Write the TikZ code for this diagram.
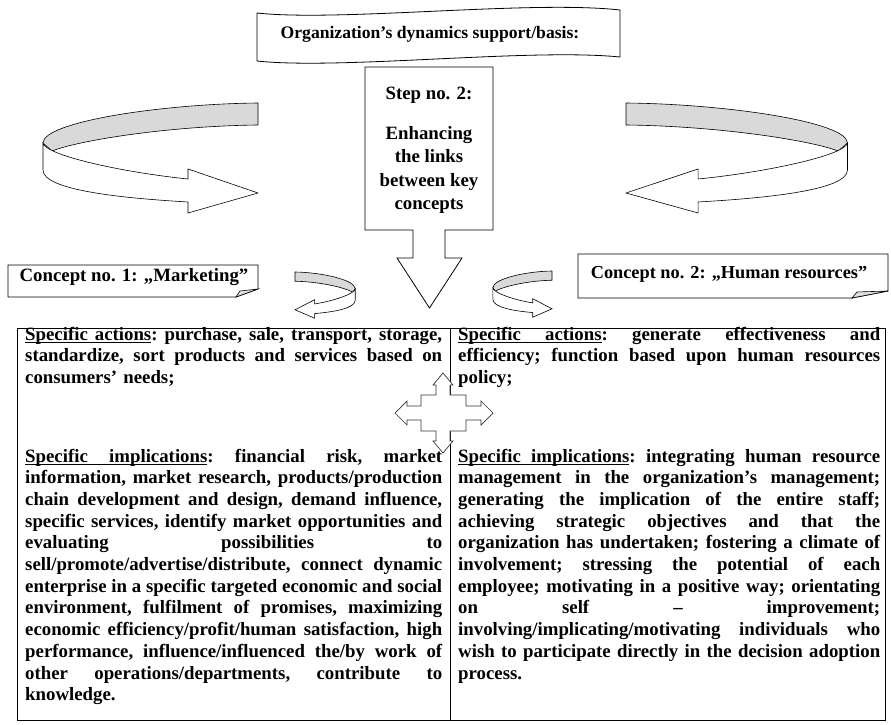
\documentclass[tikz,border=0pt]{standalone}
\usepackage{fontspec}
\setmainfont{Liberation Serif}
\newcommand\JL[1]{{\frenchspacing\spaceskip=0.25em plus 1fil\relax\xspaceskip=\spaceskip\makebox[\linewidth][s]{#1}}\par}
\newcommand\LL[1]{\makebox[\linewidth][l]{#1}\par}
\newcommand\ulw[1]{\setbox0\hbox{#1}\rlap{\rule[-3pt]{\wd0}{0.9pt}}\box0}
\newcommand\ulsp{\leaders\hrule height -2.1pt depth 3pt\hskip 0.25em plus 1fil\relax}
\tikzset{
  ol/.style={draw=black,line width=0.8pt,line join=miter},
  band/.style={fill=gray!30,draw=black,line width=0.6pt,line join=round},
  front/.style={fill=white,draw=black,line width=0.6pt,line join=miter},
  bf/.style={font=\fontsize{18.8}{21.7}\selectfont\bfseries,inner sep=0pt},
  ribbon/.pic={
    \path[band] (0,0) .. controls (98,1) and (215,19) .. (215,40) -- (206,48)
       .. controls (178,37) and (88,23) .. (0,22) -- cycle;
    \path[front] (215,40) .. controls (213,52) and (138,69) .. (70,76) -- (70,66)
       -- (0,90) -- (70,110) -- (70,99) .. controls (138,95) and (215,87) .. (215,67) -- cycle;
  }
}
\begin{document}
\begin{tikzpicture}[x=1pt,y=-1pt]
\useasboundingbox (0,0) rectangle (891,725);
\fill[white] (0,0) rectangle (891,725);

% banner
\draw[ol,fill=white] (257,13) .. controls (340,22) and (530,0) .. (620,10) -- (620,57)
   .. controls (530,48) and (340,70) .. (257,61) -- cycle;
\node[bf,font=\fontsize{17.6}{20}\selectfont\bfseries,anchor=base] (banner) at (430,39) {Organization’s dynamics support/basis:};

% step box callout
\draw[ol,fill=white] (365,67) -- (493,67) -- (493,230) -- (445,230) -- (445,258) -- (462,258)
   -- (429.5,308) -- (397,258) -- (413,258) -- (413,230) -- (365,230) -- cycle;
\node[bf,anchor=base] (st) at (429,99) {Step no. 2:};
\node[bf,anchor=base] (s1) at (429,139) {Enhancing};
\node[bf,anchor=base] (s2) at (429,162.5) {the links};
\node[bf,anchor=base] (s3) at (429,186) {between key};
\node[bf,anchor=base] (s4) at (429,209.5) {concepts};

% big ribbon arrows
\pic[xscale=-1] at (258,103) {ribbon};
\pic[xscale=1.03] at (626,103) {ribbon};
% small ribbon arrows
\pic[xscale=0.28,yscale=0.42] at (295,272) {ribbon};
\pic[xscale=-0.275,yscale=0.42] at (552,271) {ribbon};

% concept boxes
\draw[ol,fill=white] (8,265) -- (258,265) -- (258,289) -- (236,297) -- (8,297) -- cycle;
\draw[ol,fill=gray!25,line width=0.6pt] (236,297) -- (240,291) -- (258,289) -- cycle;
\node[bf,anchor=base] (c1) at (134,281) {Concept no. 1: „Marketing”};

\draw[ol,fill=white] (578,254) -- (888,254) -- (888,291) -- (852,298) -- (578,298) -- cycle;
\draw[ol,fill=gray!25,line width=0.6pt] (852,298) -- (857,292) -- (888,291) -- cycle;
\node[bf,font=\fontsize{18.3}{21}\selectfont\bfseries,anchor=base] (c2) at (729,278) {Concept no. 2: „Human resources”};

% main table
\draw[line width=1pt] (17,328) rectangle (885,720);
\draw[line width=0.8pt] (450,328) -- (450,720);

\node[bf,text width=417pt,anchor=base west] (la) at (25,340) {%
\JL{\ulw{Specific}\ulsp\ulw{actions}: purchase, sale, transport, storage,}%
\JL{standardize, sort products and services based on}%
\LL{consumers’ needs;}};

\node[bf,text width=417pt,anchor=base west] (li) at (25,462) {%
\JL{\ulw{Specific}\ulsp\ulw{implications}: financial risk, market}%
\JL{information, market research, products/production}%
\JL{chain development and design, demand influence,}%
\JL{specific services, identify market opportunities and}%
\JL{evaluating possibilities to}%
\JL{sell/promote/advertise/distribute, connect dynamic}%
\JL{enterprise in a specific targeted economic and social}%
\JL{environment, fulfilment of promises, maximizing}%
\JL{economic efficiency/profit/human satisfaction, high}%
\JL{performance, influence/influenced the/by work of}%
\JL{other operations/departments, contribute to}%
\LL{knowledge.}};

\node[bf,text width=422pt,anchor=base west] (ra) at (458,340) {%
\JL{\ulw{Specific}\ulsp\ulw{actions}: generate effectiveness and}%
\JL{efficiency; function based upon human resources}%
\LL{policy;}};

\node[bf,text width=422pt,anchor=base west] (ri) at (458,462) {%
\JL{\ulw{Specific}\ulsp\ulw{implications}: integrating human resource}%
\JL{management in the organization’s management;}%
\JL{generating the implication of the entire staff;}%
\JL{achieving strategic objectives and that the}%
\JL{organization has undertaken; fostering a climate of}%
\JL{involvement; stressing the potential of each}%
\JL{employee; motivating in a positive way; orientating}%
\JL{on self – improvement;}%
\JL{involving/implicating/motivating individuals who}%
\JL{wish to participate directly in the decision adoption}%
\LL{process.}};

% four-way arrow
\draw[fill=white,draw=black!80,line width=0.7pt]
 (443,373) -- (453,385) -- (450,385) -- (450,395) -- (466,395) -- (466,406) -- (481,406)
 -- (481,401) -- (493,413) -- (481,425) -- (481,420) -- (466,420) -- (466,431) -- (450,431)
 -- (450,441) -- (453,441) -- (443,453) -- (433,441) -- (436,441) -- (436,431) -- (421,431)
 -- (421,420) -- (407,420) -- (407,425) -- (395,413) -- (407,401) -- (407,406) -- (421,406)
 -- (421,395) -- (436,395) -- (436,385) -- (433,385) -- cycle;
\end{tikzpicture}
\end{document}
